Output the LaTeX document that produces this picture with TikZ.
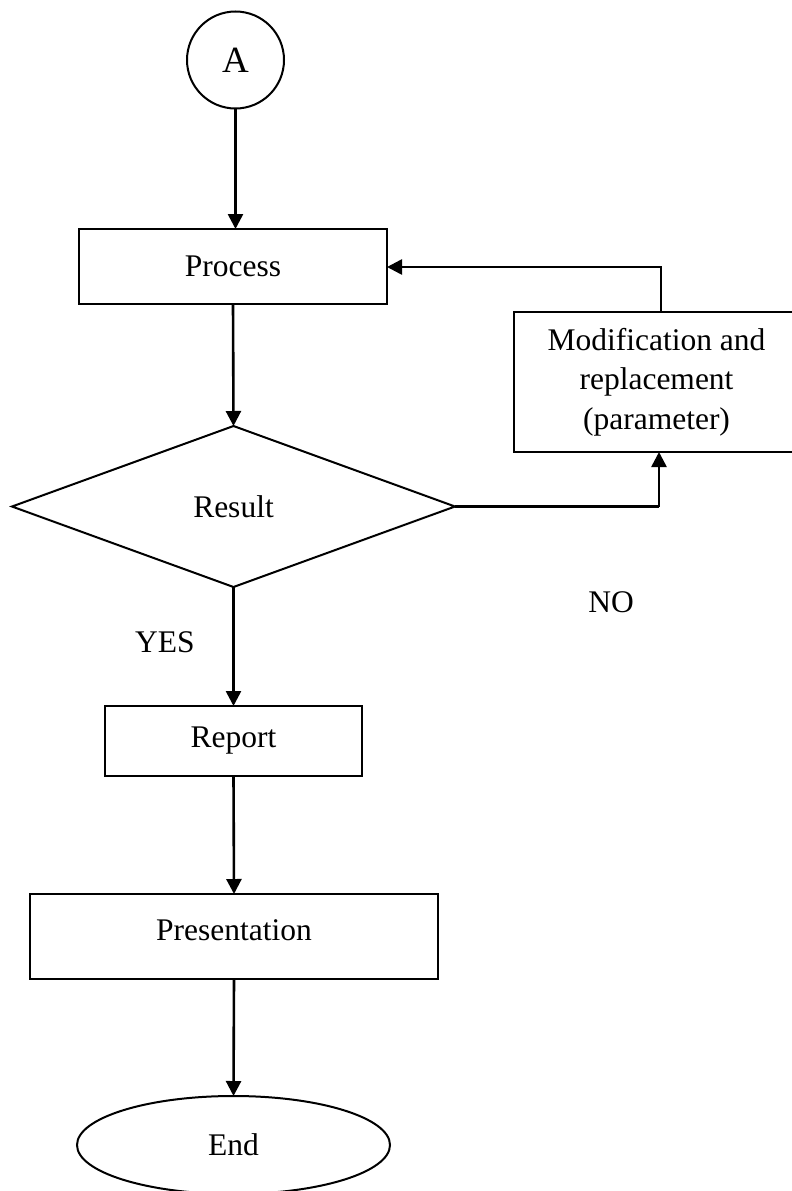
\documentclass[tikz,border=0pt]{standalone}
\usepackage{fontspec}
\setmainfont{Liberation Serif}
\usetikzlibrary{arrows.meta,shapes.geometric}
\begin{document}
\begin{tikzpicture}[x=1pt,y=-1pt,
  font=\fontsize{31.5}{39.5}\selectfont,
  every node/.style={line width=2pt,inner sep=0pt,outer sep=0pt},
  boxnode/.style={draw,rectangle,align=center},
  arr/.style={line width=2.6pt,-{Triangle[width=15pt,length=15pt]}},
  ln/.style={line width=2.6pt}]
\useasboundingbox (0,0) rectangle (792,1191);
\clip (0,0) rectangle (792,1191);
\node[draw,circle,minimum size=97pt,font=\fontsize{37}{44}\selectfont] (A) at (235.5,60) {A};
\node[boxnode,minimum width=308pt,minimum height=75pt] (proc) at (233,266.5) {Process};
\node[draw,diamond,aspect=2.75,minimum width=443pt,minimum height=161pt] (res) at (233.5,506.5) {Result};
\node[boxnode,minimum width=285pt,minimum height=140pt] (mod) at (656.5,382) {Modification and\\replacement\\(parameter)};
\node[boxnode,minimum width=257pt,minimum height=70pt] (rep) at (233.5,741) {Report};
\node[boxnode,minimum width=408pt,minimum height=85pt] (pres) at (234,936.5) {};
\node (prestext) at (234,930) {Presentation};
\node[draw,ellipse,minimum width=313pt,minimum height=98pt] (end) at (233.5,1145) {End};
\node (yes) at (165,642) {YES};
\node (no) at (611,602) {NO};
\coordinate (c1) at (661,267);
\coordinate (c2) at (659,506.5);
\draw[arr] (A.south) -- (A.south |- proc.north);
\draw[arr] (proc.south) -- (res.north);
\draw[arr] (res.south) -- (rep.north);
\draw[arr] (rep.south) -- (pres.north);
\draw[arr] (pres.south) -- (end.north);
\draw[arr] (mod.north -| c1) -- (c1) -- (proc.east |- c1);
\draw[ln] (res.east) -- (c2);
\draw[arr] (c2) -- (mod.south -| c2);
\end{tikzpicture}
\end{document}
